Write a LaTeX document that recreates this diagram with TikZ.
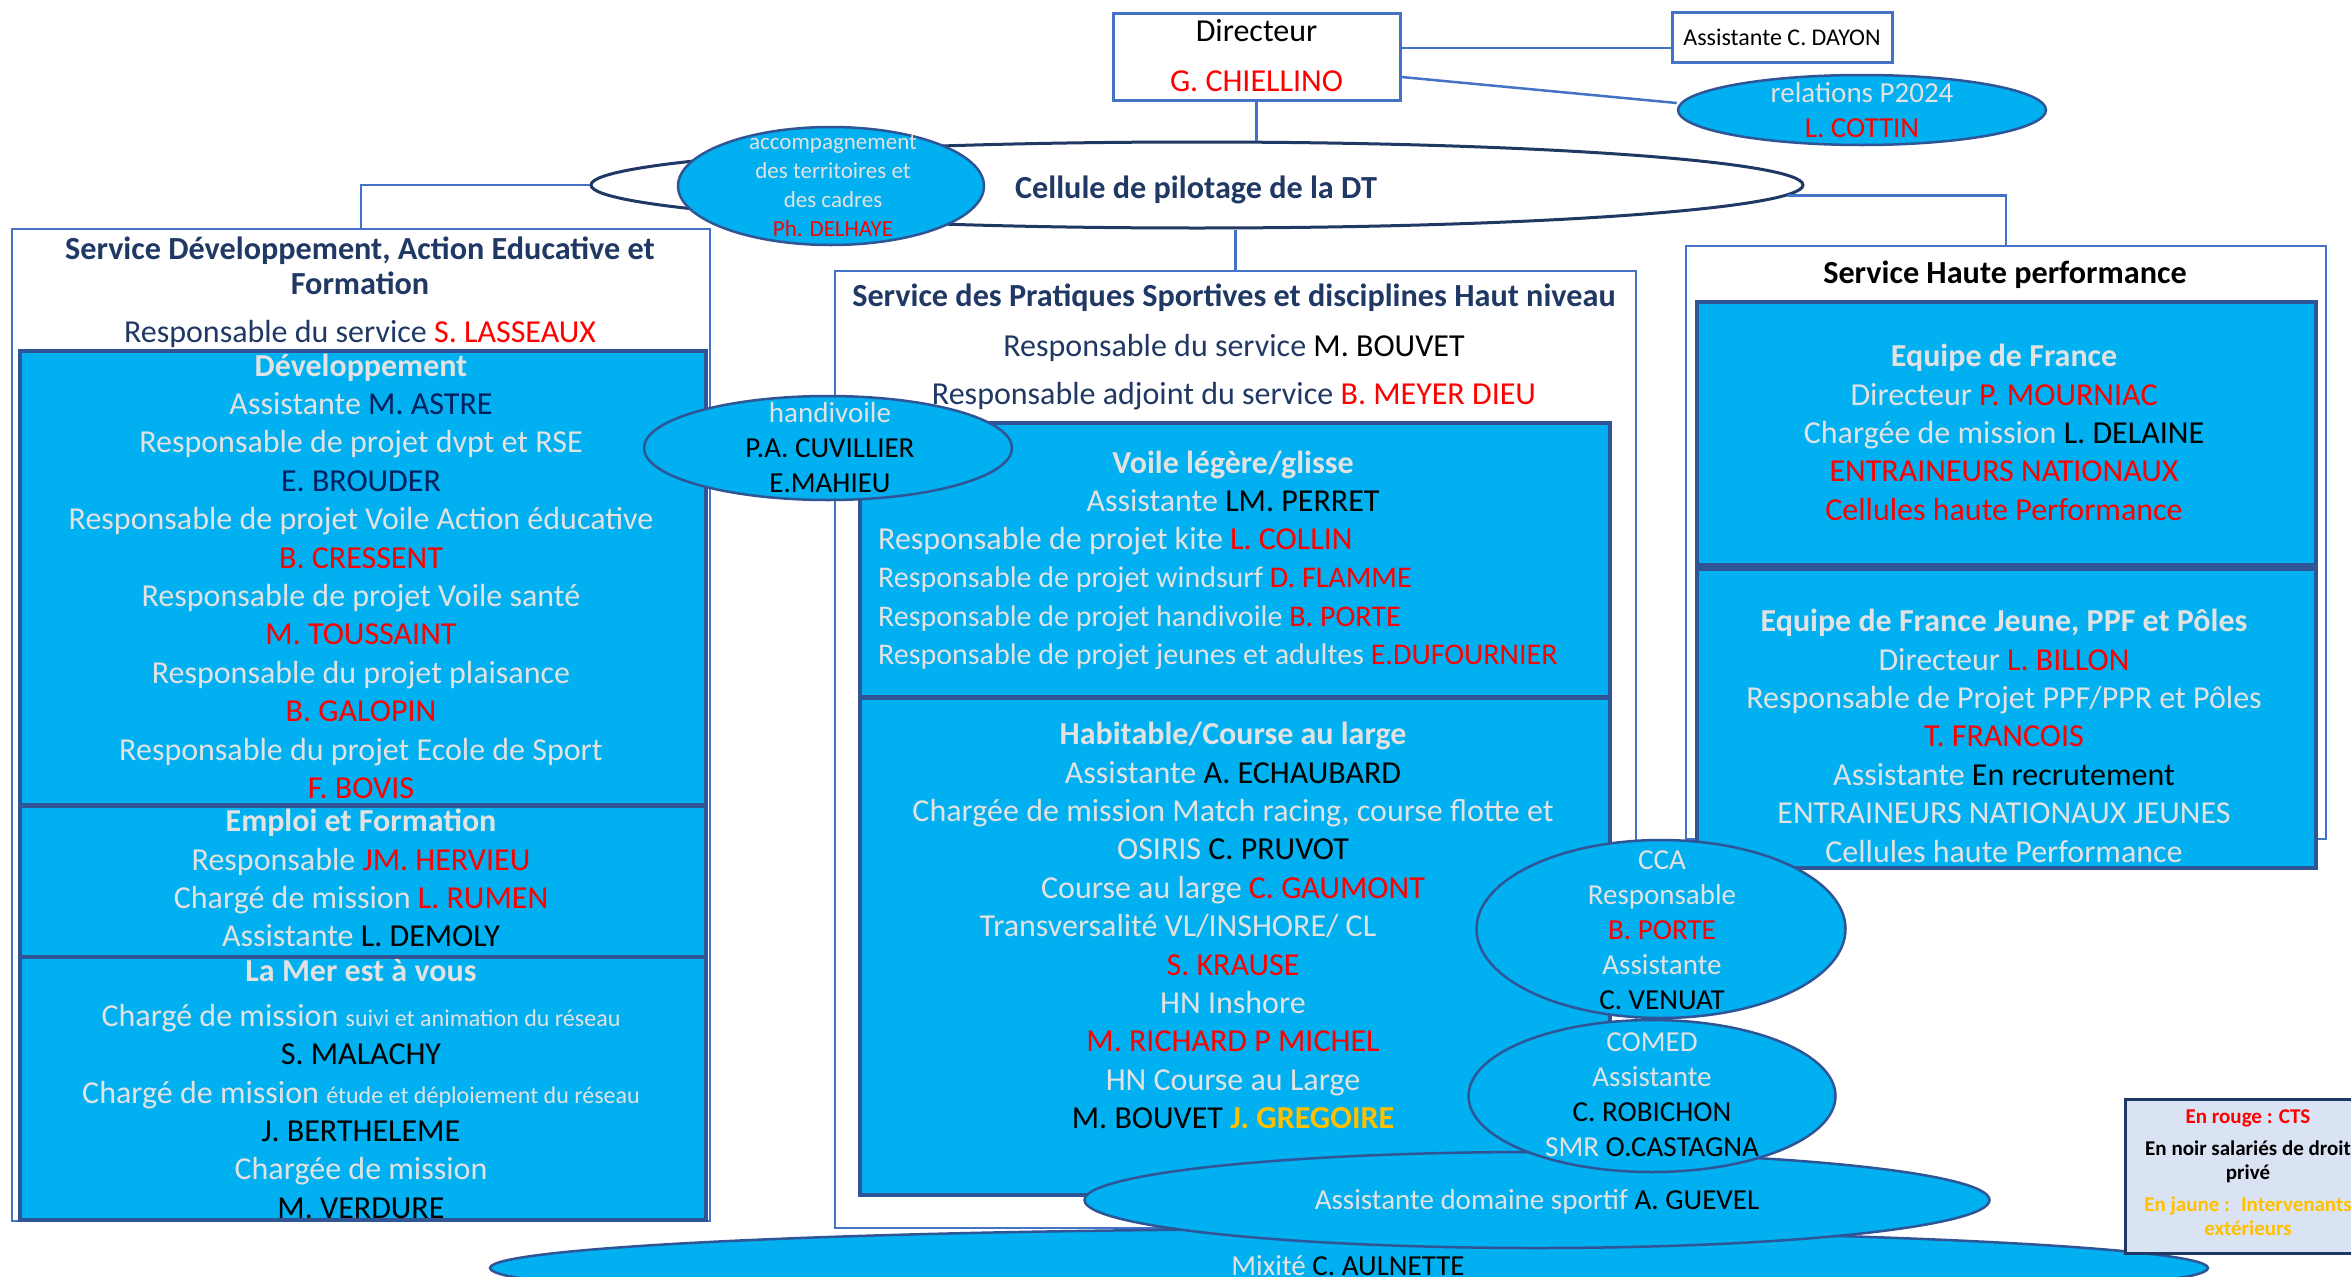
\documentclass[tikz,border=0pt]{standalone}
\usepackage{fontspec}
\setmainfont{Carlito}
\usetikzlibrary{shapes.geometric}

\definecolor{cyanfill}{HTML}{00B0F0}
\definecolor{softgray}{HTML}{E2E2E2}
\definecolor{navy}{HTML}{203864}
\definecolor{deepblue}{HTML}{002060}
\definecolor{linkblue}{HTML}{4472C4}
\definecolor{edgeblue}{HTML}{2F5597}
\definecolor{ctsred}{HTML}{FF0000}
\definecolor{extyellow}{HTML}{FFC000}
\definecolor{legendfill}{HTML}{DAE3F3}

\newcommand\fsbody{\fontsize{32}{38.4}\selectfont}
\newcommand\fsvoile{\fontsize{30}{38.4}\selectfont}
\newcommand\fstitle{\fontsize{32.2}{35}\selectfont\bfseries}
\newcommand\fsdir{\fontsize{32}{50}\selectfont}
\newcommand\fsdayon{\fontsize{24}{29}\selectfont}
\newcommand\fsoval{\fontsize{29}{35}\selectfont}
\newcommand\fsacc{\fontsize{23}{29}\selectfont}
\newcommand\fsnote{\fontsize{24}{38.4}\selectfont}
\newcommand\fslegend{\fontsize{21}{24}\selectfont\bfseries}
\newcommand\rd[1]{\textcolor{ctsred}{#1}}
\newcommand\bk[1]{\textcolor{black}{#1}}
\newcommand\nv[1]{\textcolor{deepblue}{#1}}
\newcommand\yl[1]{\textcolor{extyellow}{#1}}

\begin{document}
\begin{tikzpicture}[x=1pt,y=-1pt,
            svc/.style={draw=linkblue,line width=2pt,fill=white,anchor=north west,inner sep=0pt},
            unit/.style={draw=edgeblue,line width=3.5pt,fill=cyanfill,anchor=north west,inner sep=0pt},
            oval/.style={ellipse,draw=edgeblue,line width=2.5pt,fill=cyanfill,inner sep=0pt},
            head/.style={draw=linkblue,line width=3pt,fill=white,inner sep=0pt},
            txt/.style={align=center,anchor=north,inner sep=0pt,text=softgray,font=\fsbody,
                        execute at begin node=\strut,execute at end node=\strut},
            title/.style={txt,font=\fstitle,text=navy},
            link/.style={draw=linkblue,line width=2.5pt}]

            \useasboundingbox (0,0) rectangle (2351,1277);
            \clip (0,0) rectangle (2351,1277);
            \fill[white] (0,0) rectangle (2351,1277);

            \node[svc,minimum width=698pt,minimum height=992pt] (devbox) at (11,228) {};
            \node[svc,minimum width=801pt,minimum height=957pt] (spbox) at (834,270) {};
            \node[svc,minimum width=640pt,minimum height=593pt] (hpbox) at (1685,245) {};

            \node[unit,minimum width=686pt,minimum height=454pt] (devel) at (18,349) {};
            \node[unit,minimum width=686pt,minimum height=151pt] (emploi) at (18,804) {};
            \node[unit,minimum width=686pt,minimum height=263pt] (mer) at (18,955) {};
            \node[unit,minimum width=750pt,minimum height=274pt] (voile) at (858,421) {};
            \node[unit,minimum width=750pt,minimum height=497pt] (habit) at (858,696) {};
            \node[unit,minimum width=619pt,minimum height=263pt] (edf) at (1695,300) {};
            \node[unit,minimum width=619pt,minimum height=299pt] (edfj) at (1695,567) {};

            \node[title] (devbox-t) at (360,237) {Service Développement, Action Educative et\\Formation};
            \node[txt,text=navy] (devbox-r) at (360,315.5) {Responsable du service \rd{S. LASSEAUX}};
            \node[txt] (devel-t) at (361,353.5) {\textbf{Développement}\\Assistante \nv{M. ASTRE}\\Responsable de projet dvpt et RSE\\\nv{E. BROUDER}\\Responsable de projet Voile Action éducative\\\rd{B. CRESSENT}\\Responsable de projet Voile santé\\\rd{M. TOUSSAINT}\\Responsable du projet plaisance\\\rd{B. GALOPIN}\\Responsable du projet Ecole de Sport\\\rd{F. BOVIS}};
            \node[txt] (emploi-t) at (361,809) {\textbf{Emploi et Formation}\\Responsable \rd{JM. HERVIEU}\\Chargé de mission \rd{L. RUMEN}\\Assistante \bk{L. DEMOLY}};
            \node[txt] (mer-t) at (361,959) {\textbf{La Mer est à vous}\\[6.6pt]Chargé de mission {\fsnote suivi et animation du réseau}\\\bk{S. MALACHY}\\Chargé de mission {\fsnote étude et déploiement du réseau}\\\bk{J. BERTHELEME}\\Chargée de mission\\\bk{M. VERDURE}};

            \node[title] (spbox-t) at (1234,281.7) {Service des Pratiques Sportives et disciplines Haut niveau};
            \node[txt,text=navy] (spbox-r) at (1234,333.8) {Responsable du service \bk{M. BOUVET}\\[9.6pt]Responsable adjoint du service \rd{B. MEYER DIEU}};
            \node[txt] (voile-t) at (1233,450.5) {\textbf{Voile légère/glisse}\\Assistante \bk{LM. PERRET}};
            \node[txt,align=left,anchor=north west] (voile-l) at (878,527) {Responsable de projet kite \rd{L. COLLIN}\\{\fsvoile Responsable de projet windsurf \rd{D. FLAMME}}\\{\fsvoile Responsable de projet handivoile \rd{B. PORTE}}\\{\fsvoile Responsable de projet jeunes et adultes \rd{E.DUFOURNIER}}};
            \node[txt] (habit-t) at (1233,722) {\textbf{Habitable/Course au large}\\Assistante \bk{A. ECHAUBARD}\\Chargée de mission Match racing, course flotte et\\OSIRIS \bk{C. PRUVOT}\\Course au large \rd{C. GAUMONT}\\Transversalité VL/INSHORE/ CL\hspace*{110pt}\mbox{}\\\rd{S. KRAUSE}\\HN Inshore\\\rd{M. RICHARD P MICHEL}\\HN Course au Large\\\bk{M. BOUVET} \yl{\textbf{J. GREGOIRE}}};

            \node[title,text=black] (hpbox-t) at (2005,258.7) {Service Haute performance};
            \node[txt] (edf-t) at (2004,344) {\textbf{Equipe de France}\\Directeur \rd{P. MOURNIAC}\\Chargée de mission \bk{L. DELAINE}\\\rd{ENTRAINEURS NATIONAUX}\\\rd{Cellules haute Performance}};
            \node[txt] (edfj-t) at (2004,609) {\textbf{Equipe de France Jeune, PPF et Pôles}\\Directeur \rd{L. BILLON}\\Responsable de Projet PPF/PPR et Pôles\\\rd{T. FRANCOIS}\\Assistante \bk{En recrutement}\\ENTRAINEURS NATIONAUX JEUNES\\Cellules haute Performance};

            \node[head,minimum width=287pt,minimum height=87pt] (dir) at (1256.5,56.5) {};
            \node[txt,anchor=center,font=\fsdir,text=black] (dir-t) at (1256.5,62.5) {Directeur\\\rd{G. CHIELLINO}};
            \node[head,minimum width=220pt,minimum height=50pt,font=\fsdayon] (dayon) at (1782,37) {Assistante C. DAYON};
            \node[oval,minimum width=368pt,minimum height=70pt] (p2024) at (1862,110) {};
            \node[txt,anchor=center,font=\fsoval] (p2024-t) at (1862,115.5) {relations P2024\\\rd{L. COTTIN}};

            \node[ellipse,draw=navy,line width=3pt,fill=white,inner sep=0pt,minimum width=1212pt,minimum height=86pt] (cel) at (1197,185) {};
            \node[title,anchor=center] (cel-t) at (1196,191) {Cellule de pilotage de la DT};
            \node[oval,minimum width=306pt,minimum height=118pt] (accomp) at (831,186) {};
            \node[txt,anchor=center,font=\fsacc] (accomp-t) at (833,190.5) {accompagnement\\des territoires et\\des cadres\\\rd{Ph. DELHAYE}};

            \draw[link] (dir.south) -- (dir.south |- cel.north);
            \draw[link] ([yshift=8.5pt]dir.east) -- ([yshift=-11pt]dayon.west);
            \draw[link] ([yshift=-20.5pt]dir.east) -- ([yshift=7pt]p2024.west);
            \draw[link] (cel.west) -| (devbox.north);
            \draw[link] (spbox.north) -- (spbox.north |- cel.south);
            \draw[link] (cel.-1) -| (hpbox.north);

            \node[oval,minimum width=368pt,minimum height=104pt] (handi) at (828,448) {};
            \node[txt,anchor=center,font=\fsoval] (handi-t) at (830,453) {handivoile\\\bk{P.A. CUVILLIER}\\\bk{E.MAHIEU}};

            \node[oval,minimum width=1718pt,minimum height=78pt] (mixite) at (1349,1268) {};
            \node[txt,anchor=center,font=\fsoval] (mixite-t) at (1348,1268) {Mixité \bk{C. AULNETTE}};
            \node[oval,minimum width=905pt,minimum height=96pt] (guevel) at (1537,1200) {};
            \node[txt,anchor=center,font=\fsoval] (guevel-t) at (1537,1202) {Assistante domaine sportif \bk{A. GUEVEL}};
            \node[oval,minimum width=367pt,minimum height=152pt] (comed) at (1652,1096) {};
            \node[txt,anchor=center,font=\fsoval] (comed-t) at (1652,1100) {COMED\\Assistante\\\bk{C. ROBICHON}\\SMR \bk{O.CASTAGNA}};
            \node[oval,minimum width=369pt,minimum height=178pt] (cca) at (1661,929) {};
            \node[txt,anchor=center,font=\fsoval] (cca-t) at (1662,935) {CCA\\Responsable\\\rd{B. PORTE}\\Assistante\\\bk{C. VENUAT}};

            \node[draw=navy,line width=2.5pt,fill=legendfill,anchor=north west,inner sep=0pt,minimum width=248pt,minimum height=154pt] (legend) at (2124,1098) {};
            \node[txt,anchor=center,font=\fslegend] (legend-t) at (2248,1176) {\rd{En rouge : CTS}\\[8pt]\bk{En noir salariés de droit}\\\bk{privé}\\[8pt]\yl{En jaune :~ Intervenants}\\\yl{extérieurs}};
        \end{tikzpicture}
\end{document}
